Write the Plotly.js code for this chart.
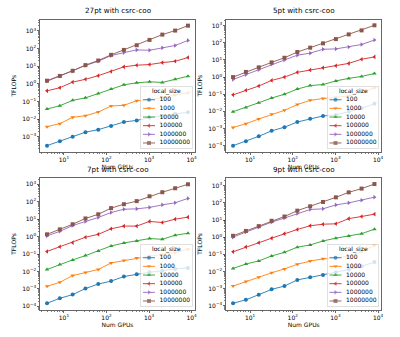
<!DOCTYPE html>
<html>
<head>
<meta charset="utf-8">
<script src="https://cdn.plot.ly/plotly-3.0.1.min.js"></script>
<style>html,body{margin:0;padding:0;background:#fff;}#chart{width:400px;height:337px;}</style>
</head>
<body>
<div id="chart"></div>
<script>
const gpus = [4, 8, 16, 32, 64, 128, 256, 512, 1024, 2048, 4096, 8192];
const sizes = ['100', '1000', '10000', '100000', '1000000', '10000000'];
const colors = ['#1f77b4', '#ff7f0e', '#2ca02c', '#d62728', '#9467bd', '#8c564b'];
const symbols = ['circle', 'triangle-down', 'triangle-up', 'triangle-left', 'triangle-right', 'square'];
const panelTitles = ['27pt with csrc-coo', '5pt with csrc-coo', '7pt with csrc-coo', '9pt with csrc-coo'];

const tflops27 = [
  [3.1e-4, 5.5e-4, 1e-3, 1.8e-3, 2.5e-3, 4e-3, 6.8e-3, 8.4e-3, 0.012, 0.015, 0.02, 0.024],
  [3.7e-3, 5.5e-3, 0.0125, 0.0155, 0.025, 0.055, 0.06, 0.11, 0.12, 0.17, 0.23, 0.31],
  [0.037, 0.057, 0.115, 0.16, 0.28, 0.5, 0.88, 1.14, 1.3, 1.2, 1.8, 2.7],
  [0.4, 0.6, 1.25, 1.8, 2.9, 5, 9.2, 11.4, 12.4, 16, 19, 31],
  [1.4, 2.7, 5.2, 11, 19, 40, 59, 84, 80, 110, 150, 290],
  [1.5, 2.8, 5.5, 11.5, 21, 44, 84, 155, 310, 620, 1050, 2000]
];
const tflops5 = [
  [1e-4, 1.8e-4, 3.5e-4, 7.3e-4, 1.2e-3, 2.4e-3, 3.7e-3, 5.4e-3, 6.2e-3, 0.01, 0.015, 0.028],
  [1.15e-3, 1.9e-3, 3.6e-3, 6.7e-3, 0.0115, 0.025, 0.044, 0.056, 0.066, 0.08, 0.14, 0.23],
  [0.0096, 0.017, 0.032, 0.06, 0.1, 0.2, 0.32, 0.37, 0.6, 0.84, 1.1, 1.6],
  [0.092, 0.17, 0.3, 0.64, 1.0, 1.9, 2.6, 3.5, 4.6, 6.3, 11, 15],
  [0.73, 1.4, 2.7, 5.6, 10, 19, 25, 42, 44, 57, 80, 145],
  [1.0, 2.0, 3.7, 7.2, 13.4, 29, 52, 93, 165, 310, 530, 1050]
];
const tflops7 = [
  [1.5e-4, 2.9e-4, 4.7e-4, 1.05e-3, 1.9e-3, 2.8e-3, 5.1e-3, 7e-3, 9e-3, 0.011, 0.014, 0.016],
  [1.4e-3, 2.4e-3, 5.8e-3, 8.7e-3, 0.013, 0.031, 0.043, 0.059, 0.075, 0.095, 0.12, 0.19],
  [0.013, 0.025, 0.046, 0.081, 0.15, 0.29, 0.43, 0.56, 0.77, 0.7, 1.2, 1.55],
  [0.14, 0.26, 0.45, 0.92, 1.35, 2.8, 4, 4, 7.4, 6.4, 10, 13],
  [1.1, 2.0, 4.3, 7.3, 12.5, 24, 37, 39, 47, 66, 87, 155],
  [1.35, 2.6, 5.1, 11, 19, 43, 72, 108, 205, 350, 590, 1000]
];
const tflops9 = [
  [1.4e-4, 2.2e-4, 4.4e-4, 9e-4, 1.4e-3, 3.2e-3, 4.5e-3, 6.1e-3, 9e-3, 0.013, 0.02, 0.035],
  [1.4e-3, 2.6e-3, 4.5e-3, 8.3e-3, 0.014, 0.026, 0.04, 0.054, 0.06, 0.08, 0.14, 0.33],
  [0.015, 0.027, 0.041, 0.08, 0.13, 0.26, 0.35, 0.6, 0.87, 1.15, 1.6, 2.9],
  [0.14, 0.27, 0.47, 0.87, 1.6, 2.8, 4.6, 5.7, 6.0, 12, 16, 22],
  [1.0, 2.0, 3.8, 7.5, 13, 24, 41, 45, 76, 100, 143, 215],
  [1.2, 2.3, 4.4, 9, 16, 35, 63, 113, 210, 410, 680, 1250]
];
const panelData = [tflops27, tflops5, tflops7, tflops9];

// layout geometry (pixels)
const W = 400, H = 337;
const FONT = 'DejaVu Sans, Liberation Sans, sans-serif';
const xDomains = [[40 / W, 195 / W], [226 / W, 381.5 / W], [40 / W, 195 / W], [226 / W, 381.5 / W]];
const yDomains = [[1 - 152 / H, 1 - 19.5 / H], [1 - 152 / H, 1 - 19.5 / H], [1 - 310 / H, 1 - 178 / H], [1 - 310 / H, 1 - 178 / H]];
const yRanges = [[-3.87, 3.65], [-4.37, 3.36], [-4.21, 3.36], [-4.25, 3.45]];
const xRange = [0.437, 4.079];

function pow10Label(k) { return '10<sup>' + (k < 0 ? '\u2212' + (-k) : k) + '</sup>'; }
function majorVals(lo, hi) { const v = []; for (let k = lo; k <= hi; k++) v.push(Math.pow(10, k)); return v; }
function minorVals(lo, hi) { const v = []; for (let k = lo; k <= hi; k++) for (let m = 2; m <= 9; m++) v.push(m * Math.pow(10, k)); return v; }

const traces = [];
const layout = {
  width: W, height: H,
  margin: {l: 0, r: 0, t: 0, b: 0},
  paper_bgcolor: '#ffffff',
  plot_bgcolor: 'rgba(255,255,255,0.8)',
  showlegend: false,
  font: {family: FONT, size: 6, color: '#000'},
  annotations: [],
  shapes: []
};

for (let p = 0; p < 4; p++) {
  const sfx = p === 0 ? '' : String(p + 1);
  const xid = 'x' + sfx, yid = 'y' + sfx;
  const data = panelData[p];
  for (let s = 0; s < sizes.length; s++) {
    traces.push({
      type: 'scatter', mode: 'lines+markers', name: sizes[s],
      x: gpus, y: data[s], xaxis: xid, yaxis: yid,
      line: {color: colors[s], width: 0.9},
      marker: {color: colors[s], symbol: symbols[s], size: 4, line: {width: 0}},
      cliponaxis: false
    });
  }
  const yr = yRanges[p];
  const kLo = Math.ceil(yr[0]), kHi = Math.floor(yr[1]);
  const xMaj = majorVals(1, 4);
  layout['xaxis' + sfx] = {
    type: 'log', range: xRange, domain: xDomains[p], anchor: yid,
    showgrid: false, zeroline: false,
    showline: true, mirror: true, linecolor: '#000', linewidth: 0.6,
    ticks: 'outside', ticklen: 2.1, tickwidth: 0.6, tickcolor: '#000',
    tickmode: 'array', tickvals: xMaj, ticktext: [1, 2, 3, 4].map(pow10Label),
    tickfont: {family: FONT, size: 6, color: '#000'},
    minor: {tickmode: 'array', tickvals: minorVals(0, 3), ticks: 'outside', ticklen: 1.2, tickwidth: 0.5, tickcolor: '#000', showgrid: false},
    title: {text: 'Num GPUs', font: {family: FONT, size: 6, color: '#000'}, standoff: 1},
    fixedrange: true
  };
  const yMajK = []; for (let k = kLo; k <= kHi; k++) yMajK.push(k);
  layout['yaxis' + sfx] = {
    type: 'log', range: yr, domain: yDomains[p], anchor: xid,
    showgrid: false, zeroline: false,
    showline: true, mirror: true, linecolor: '#000', linewidth: 0.6,
    ticks: 'outside', ticklen: 2.1, tickwidth: 0.6, tickcolor: '#000',
    tickmode: 'array', tickvals: yMajK.map(k => Math.pow(10, k)), ticktext: yMajK.map(pow10Label),
    tickfont: {family: FONT, size: 6, color: '#000'},
    minor: {tickmode: 'array', tickvals: minorVals(kLo - 1, kHi), ticks: 'outside', ticklen: 1.2, tickwidth: 0.5, tickcolor: '#000', showgrid: false},
    title: {text: 'TFLOPs', font: {family: FONT, size: 6, color: '#000'}, standoff: 4},
    fixedrange: true
  };
  layout.annotations.push({
    xref: 'paper', yref: 'paper',
    x: (xDomains[p][0] + xDomains[p][1]) / 2, y: yDomains[p][1] + 2.5 / H,
    xanchor: 'center', yanchor: 'bottom', showarrow: false,
    text: panelTitles[p], font: {family: FONT, size: 7.2, color: '#000'}
  });

  // legend drawn as a small inset subplot
  const lsfx = String(p + 5);
  const lx = 'x' + lsfx, ly = 'y' + lsfx;
  const xr = xDomains[p][1] - 3 / W, xl = xr - 51 / W;
  const yb = yDomains[p][0] + 4 / H, yt = yb + 61 / H;
  layout['xaxis' + lsfx] = {domain: [xl, xr], range: [0, 51], anchor: ly, showgrid: false, zeroline: false,
    showticklabels: false, ticks: '', showline: true, mirror: true, linecolor: '#cccccc', linewidth: 0.6, fixedrange: true};
  layout['yaxis' + lsfx] = {domain: [yb, yt], range: [5.58, -1.47], anchor: lx, showgrid: false, zeroline: false,
    showticklabels: false, ticks: '', showline: true, mirror: true, linecolor: '#cccccc', linewidth: 0.6, fixedrange: true};
  for (let s = 0; s < sizes.length; s++) {
    traces.push({
      type: 'scatter', mode: 'lines+markers', x: [2, 8, 14], y: [s, s, s], xaxis: lx, yaxis: ly,
      line: {color: colors[s], width: 0.9},
      marker: {color: colors[s], symbol: symbols[s], size: [0, 4, 0], line: {width: 0}},
      hoverinfo: 'skip', cliponaxis: false
    });
  }
  traces.push({
    type: 'scatter', mode: 'text', x: sizes.map(() => 18.5), y: sizes.map((_, i) => i), text: sizes,
    textposition: 'middle right', textfont: {family: FONT, size: 6, color: '#000'},
    xaxis: lx, yaxis: ly, hoverinfo: 'skip', cliponaxis: false
  });
  layout.annotations.push({
    xref: lx, yref: ly, x: 25.5, y: -1, xanchor: 'center', yanchor: 'middle', showarrow: false,
    text: 'local_size', font: {family: FONT, size: 6, color: '#000'}
  });
}

Plotly.newPlot('chart', traces, layout, {staticPlot: true, displayModeBar: false});
</script>
</body>
</html>
